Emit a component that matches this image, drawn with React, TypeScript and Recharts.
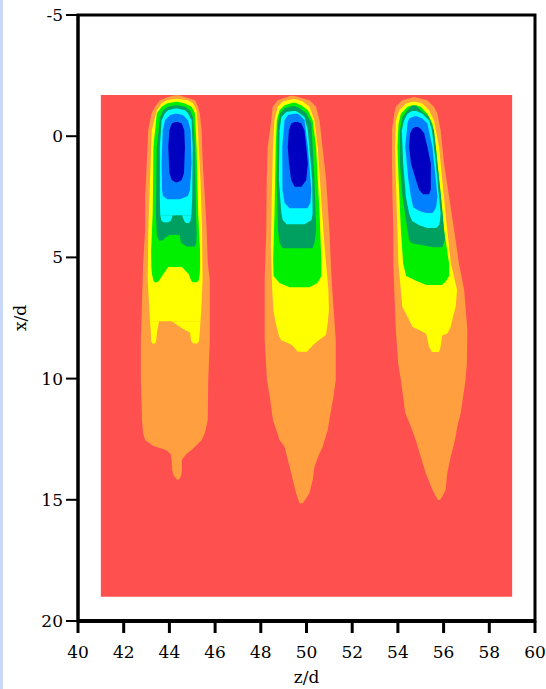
import React from 'react';
import { ComposedChart, Area, XAxis, YAxis, ReferenceArea, Label } from 'recharts';

// Each contour band is a list of rows: [x/d, left z/d, right z/d]
type Span = [number, number, number];

const zTicks = [40, 42, 44, 46, 48, 50, 52, 54, 56, 58, 60];
const xdTicks = [-5, 0, 5, 10, 15, 20];

// measured window
const domainBand: Span[] = [
  [-1.7, 41, 59],
  [19, 41, 59],
];

// ---- jet at z/d ≈ 44.3 ----
const p1Orange: Span[] = [
  [-1.7, 44.26, 44.36], [-1.62, 43.94, 44.68], [-1.48, 43.59, 45.12], [-1.21, 43.37, 45.25],
  [-0.95, 43.22, 45.33], [-0.25, 43.07, 45.41], [1.11, 43.01, 45.46], [2.51, 42.94, 45.55],
  [3.87, 42.94, 45.63], [5.23, 42.85, 45.68], [5.94, 42.83, 45.77], [8.41, 42.75, 45.77],
  [10.06, 42.75, 45.7], [11.71, 42.8, 45.68], [12.25, 42.85, 45.55], [12.54, 42.94, 45.41],
  [12.78, 43.3, 45.15], [12.95, 43.85, 44.97], [13.1, 44.05, 44.75], [13.36, 44.1, 44.54],
  [13.77, 44.12, 44.55], [14.02, 44.2, 44.51], [14.16, 44.33, 44.42],
];
const p1Yellow: Span[] = [
  [-1.55, 44.26, 44.36], [-1.48, 43.88, 44.81], [-1.36, 43.66, 45.03], [-1.07, 43.45, 45.19],
  [-0.25, 43.23, 45.25], [1.81, 43.15, 45.36], [3.87, 43.08, 45.43], [5.94, 43.05, 45.45],
  [7.1, 43.12, 45.4], [7.63, 43.15, 45.36],
];
const p1YellowLeft: Span[] = [
  [7.63, 43.15, 43.55], [8.0, 43.18, 43.47], [8.45, 43.2, 43.42], [8.55, 43.25, 43.38],
];
const p1YellowRight: Span[] = [
  [7.63, 44.1, 45.36], [7.95, 44.6, 45.34], [8.1, 44.9, 45.33], [8.45, 44.95, 45.3], [8.55, 45.05, 45.22],
];
const p1Green: Span[] = [
  [-1.42, 44.26, 44.36], [-1.35, 43.88, 44.68], [-1.21, 43.66, 44.97], [-0.95, 43.45, 45.12],
  [0.45, 43.3, 45.19], [3.17, 43.27, 45.26], [4.7, 43.2, 45.34], [5.4, 43.21, 45.34],
];
const p1GreenLeft: Span[] = [
  [5.4, 43.21, 43.95], [5.7, 43.24, 43.73], [5.95, 43.3, 43.55], [6.02, 43.35, 43.48],
];
const p1GreenRight: Span[] = [
  [5.4, 44.55, 45.34], [5.7, 44.85, 45.33], [5.95, 44.95, 45.28], [6.02, 45.02, 45.2],
];
const p1DarkGreen: Span[] = [
  [-1.28, 44.26, 44.36], [-1.21, 43.94, 44.68], [-1.07, 43.72, 44.9], [-0.79, 43.59, 45.03],
  [0.45, 43.45, 45.12], [3.17, 43.41, 45.16], [4.08, 43.45, 45.19],
];
const p1DarkGreenLeft: Span[] = [
  [4.08, 43.45, 44.0], [4.2, 43.5, 43.8], [4.3, 43.55, 43.72],
];
const p1DarkGreenRight: Span[] = [
  [4.08, 44.45, 45.19], [4.4, 44.5, 45.17], [4.55, 44.75, 45.12],
];
const p1Cyan: Span[] = [
  [-1.14, 44.26, 44.36], [-1.07, 43.94, 44.68], [-0.95, 43.81, 44.81], [-0.66, 43.66, 44.97],
  [0.45, 43.58, 45.02], [2.51, 43.58, 45.0], [3.26, 43.6, 44.96],
];
const p1CyanLeft: Span[] = [
  [3.26, 43.6, 44.15], [3.5, 43.66, 44.05], [3.55, 43.75, 43.95],
];
const p1CyanRight: Span[] = [
  [3.26, 44.55, 44.96], [3.5, 44.65, 44.92], [3.58, 44.72, 44.85],
];
const p1Blue: Span[] = [
  [-0.93, 44.26, 44.36], [-0.87, 44.03, 44.59], [-0.66, 43.81, 44.81], [-0.25, 43.71, 44.93],
  [1.11, 43.66, 44.97], [2.23, 43.68, 44.9], [2.47, 43.72, 44.81], [2.6, 43.9, 44.46],
];
const p1Navy: Span[] = [
  [-0.59, 44.26, 44.36], [-0.52, 44.1, 44.54], [-0.25, 44.0, 44.65], [0.45, 43.95, 44.68],
  [1.52, 44.0, 44.64], [1.81, 44.1, 44.54], [1.9, 44.26, 44.36],
];

// ---- jet at z/d ≈ 49.6 ----
const p2Orange: Span[] = [
  [-1.67, 49.31, 49.44], [-1.48, 48.74, 50.13], [-1.21, 48.52, 50.42], [-0.66, 48.46, 50.57],
  [0.45, 48.3, 50.7], [1.81, 48.26, 50.86], [3.87, 48.24, 51.0], [5.94, 48.17, 51.1],
  [8.41, 48.17, 51.28], [10.06, 48.27, 51.28], [10.74, 48.39, 51.18], [11.29, 48.47, 51.08],
  [11.71, 48.53, 51.0], [12.12, 48.68, 50.93], [12.53, 48.82, 50.79], [12.81, 49.04, 50.71],
  [13.08, 49.11, 50.57], [13.63, 49.26, 50.35], [14.18, 49.4, 50.27], [14.73, 49.55, 50.13],
  [15.14, 49.69, 49.84],
];
const p2Yellow: Span[] = [
  [-1.53, 49.39, 49.52], [-1.43, 48.97, 49.84], [-1.21, 48.74, 50.13], [-0.66, 48.6, 50.35],
  [0.45, 48.53, 50.49], [2.5, 48.48, 50.64], [4.56, 48.44, 50.79], [6.35, 48.5, 50.96],
  [7.17, 48.55, 50.98], [7.7, 48.65, 50.93], [8.2, 48.78, 50.85], [8.41, 48.88, 50.55],
  [8.6, 49.35, 50.3], [8.89, 49.62, 50.02],
];
const p2Green: Span[] = [
  [-1.38, 49.39, 49.52], [-1.28, 49.04, 49.77], [-1.07, 48.82, 50.06], [-0.66, 48.7, 50.27],
  [0.45, 48.65, 50.42], [3.17, 48.6, 50.57], [5.11, 48.54, 50.65], [5.77, 48.56, 50.65],
  [6.06, 48.82, 50.48], [6.23, 49.26, 50.13],
];
const p2DarkGreen: Span[] = [
  [-1.24, 49.39, 49.52], [-1.15, 49.04, 49.7], [-0.95, 48.85, 49.99], [-0.52, 48.75, 50.21],
  [1.81, 48.7, 50.35], [3.87, 48.75, 50.42], [4.41, 48.82, 50.35], [4.62, 48.96, 50.26],
];
const p2Cyan: Span[] = [
  [-1.04, 49.39, 49.52], [-1.0, 49.12, 49.62], [-0.79, 48.9, 49.91], [-0.25, 48.82, 50.06],
  [1.81, 48.79, 50.25], [3.17, 48.9, 50.27], [3.46, 48.96, 50.22], [3.63, 49.13, 49.91],
];
const p2Blue: Span[] = [
  [-0.93, 49.48, 49.61], [-0.87, 49.18, 49.7], [-0.66, 49.04, 49.91], [0.45, 48.94, 50.06],
  [2.23, 48.95, 50.21], [2.76, 49.04, 50.17], [2.97, 49.26, 50.04],
];
const p2Navy: Span[] = [
  [-0.59, 49.48, 49.61], [-0.52, 49.33, 49.77], [-0.25, 49.23, 49.91], [0.45, 49.18, 49.99],
  [1.12, 49.23, 50.06], [1.81, 49.33, 49.99], [2.09, 49.48, 49.78],
];

// ---- jet at z/d ≈ 54.9 ----
const p3Orange: Span[] = [
  [-1.61, 54.67, 54.76], [-1.48, 54.19, 55.28], [-1.21, 53.91, 55.58], [-0.93, 53.84, 55.73],
  [-0.25, 53.74, 55.87], [1.12, 53.74, 56.02], [2.5, 53.76, 56.24], [3.87, 53.8, 56.46],
  [5.25, 53.8, 56.67], [6.35, 53.84, 56.9], [7.99, 53.91, 57.04], [9.36, 54.01, 57.02],
  [10.06, 54.13, 56.96], [11.42, 54.32, 56.75], [11.98, 54.57, 56.6], [12.53, 54.78, 56.5],
  [13.22, 55.0, 56.31], [13.9, 55.22, 56.16], [14.59, 55.51, 56.09], [14.88, 55.67, 55.93],
  [15.01, 55.76, 55.84],
];
const p3Yellow: Span[] = [
  [-1.42, 54.62, 54.8], [-1.35, 54.35, 55.07], [-1.07, 54.06, 55.36], [-0.66, 53.91, 55.58],
  [0.44, 53.88, 55.8], [1.81, 53.91, 55.94], [3.87, 53.98, 56.16], [5.25, 54.02, 56.32],
  [6.35, 54.13, 56.59], [7.04, 54.19, 56.53], [7.45, 54.42, 56.41], [7.87, 54.64, 56.31],
  [8.0, 54.93, 56.25], [8.14, 55.22, 56.16], [8.22, 55.26, 55.94], [8.69, 55.36, 55.87],
  [8.9, 55.49, 55.8],
];
const p3Green: Span[] = [
  [-1.28, 54.62, 54.8], [-1.21, 54.42, 55.0], [-0.93, 54.13, 55.29], [-0.52, 54.03, 55.51],
  [0.44, 53.98, 55.66], [1.81, 54.03, 55.8], [3.87, 54.13, 56.02], [5.25, 54.23, 56.24],
  [5.77, 54.36, 56.24], [5.98, 54.84, 56.1], [6.14, 55.24, 55.93],
];
const p3DarkGreen: Span[] = [
  [-1.26, 54.62, 54.8], [-1.07, 54.42, 55.0], [-0.79, 54.2, 55.36], [-0.25, 54.09, 55.58],
  [1.12, 54.09, 55.73], [2.5, 54.2, 55.89], [3.87, 54.42, 56.02], [4.29, 54.49, 56.06],
  [4.42, 54.62, 56.0], [4.58, 55.55, 55.95],
];
const p3Cyan: Span[] = [
  [-1.04, 54.62, 54.8], [-0.93, 54.42, 55.07], [-0.66, 54.27, 55.36], [-0.25, 54.17, 55.49],
  [1.12, 54.23, 55.66], [2.5, 54.35, 55.8], [3.19, 54.49, 55.87], [3.5, 54.62, 55.84],
  [3.67, 54.93, 55.8], [3.79, 55.28, 55.67],
];
const p3Blue: Span[] = [
  [-0.82, 54.71, 54.84], [-0.73, 54.49, 55.07], [-0.52, 54.42, 55.29], [0.44, 54.32, 55.51],
  [1.81, 54.46, 55.66], [2.5, 54.57, 55.73], [2.93, 54.67, 55.67], [3.09, 54.93, 55.58],
  [3.17, 55.24, 55.51],
];
const p3Navy: Span[] = [
  [-0.38, 54.75, 54.88], [-0.31, 54.63, 55.0], [-0.11, 54.53, 55.15], [0.44, 54.49, 55.29],
  [1.12, 54.57, 55.44], [1.81, 54.79, 55.44], [2.22, 54.93, 55.44], [2.39, 55.1, 55.36],
];

const colors = {
  red: '#ff5050',
  orange: '#ff9f40',
  yellow: '#ffff00',
  green: '#00f000',
  darkGreen: '#00a060',
  cyan: '#00ffff',
  blue: '#0080ff',
  navy: '#0000c0',
};

// painted from the outermost level inwards
const layers: { id: string; color: string; spans: Span[] }[] = [
  { id: 'window', color: colors.red, spans: domainBand },
  { id: 'p1-orange', color: colors.orange, spans: p1Orange },
  { id: 'p2-orange', color: colors.orange, spans: p2Orange },
  { id: 'p3-orange', color: colors.orange, spans: p3Orange },
  { id: 'p1-yellow', color: colors.yellow, spans: p1Yellow },
  { id: 'p1-yellow-l', color: colors.yellow, spans: p1YellowLeft },
  { id: 'p1-yellow-r', color: colors.yellow, spans: p1YellowRight },
  { id: 'p2-yellow', color: colors.yellow, spans: p2Yellow },
  { id: 'p3-yellow', color: colors.yellow, spans: p3Yellow },
  { id: 'p1-green', color: colors.green, spans: p1Green },
  { id: 'p1-green-l', color: colors.green, spans: p1GreenLeft },
  { id: 'p1-green-r', color: colors.green, spans: p1GreenRight },
  { id: 'p2-green', color: colors.green, spans: p2Green },
  { id: 'p3-green', color: colors.green, spans: p3Green },
  { id: 'p1-dkgreen', color: colors.darkGreen, spans: p1DarkGreen },
  { id: 'p1-dkgreen-l', color: colors.darkGreen, spans: p1DarkGreenLeft },
  { id: 'p1-dkgreen-r', color: colors.darkGreen, spans: p1DarkGreenRight },
  { id: 'p2-dkgreen', color: colors.darkGreen, spans: p2DarkGreen },
  { id: 'p3-dkgreen', color: colors.darkGreen, spans: p3DarkGreen },
  { id: 'p1-cyan', color: colors.cyan, spans: p1Cyan },
  { id: 'p1-cyan-l', color: colors.cyan, spans: p1CyanLeft },
  { id: 'p1-cyan-r', color: colors.cyan, spans: p1CyanRight },
  { id: 'p2-cyan', color: colors.cyan, spans: p2Cyan },
  { id: 'p3-cyan', color: colors.cyan, spans: p3Cyan },
  { id: 'p1-blue', color: colors.blue, spans: p1Blue },
  { id: 'p2-blue', color: colors.blue, spans: p2Blue },
  { id: 'p3-blue', color: colors.blue, spans: p3Blue },
  { id: 'p1-navy', color: colors.navy, spans: p1Navy },
  { id: 'p2-navy', color: colors.navy, spans: p2Navy },
  { id: 'p3-navy', color: colors.navy, spans: p3Navy },
];

const toRows = (spans: Span[]) => spans.map(([xd, left, right]) => ({ xd, band: [left, right] }));

const serif = 'DejaVu Serif';
const labelSize = 17;

const BottomTick = (props: any) => {
  const { x, y, payload } = props;
  return (
    <text x={x} y={y} dy={15} textAnchor="middle" fill="#000" fontSize={labelSize} fontFamily={serif}>
      {payload.value}
    </text>
  );
};

const LeftTick = (props: any) => {
  const { x, y, payload } = props;
  return (
    <text x={x} y={y} dy={6} textAnchor="end" fill="#000" fontSize={labelSize} fontFamily={serif}>
      {payload.value}
    </text>
  );
};

const XTitle = (props: any) => {
  const { viewBox } = props;
  const cx = viewBox.x + viewBox.width / 2;
  return (
    <text x={cx} y={683} textAnchor="middle" fill="#000" fontSize={labelSize} fontFamily={serif}>
      z/d
    </text>
  );
};

const YTitle = (props: any) => {
  const { viewBox } = props;
  const cy = viewBox.y + viewBox.height / 2;
  return (
    <text
      x={26}
      y={cy}
      transform={`rotate(-90 26 ${cy})`}
      textAnchor="middle"
      fill="#000"
      fontSize={labelSize}
      fontFamily={serif}
    >
      x/d
    </text>
  );
};

export default function App() {
  return (
    <div style={{ position: 'absolute', left: 0, top: 0, width: 546, height: 689, background: '#fff' }}>
      <div style={{ position: 'absolute', left: 0, top: 0, width: 3, height: 689, background: '#c8d7f8' }} />
      <ComposedChart
        width={546}
        height={689}
        layout="vertical"
        margin={{ top: 15, right: 11, bottom: 0, left: 0 }}
      >
        <XAxis
          type="number"
          domain={[40, 60]}
          ticks={zTicks}
          interval={0}
          allowDataOverflow
          height={68}
          tickSize={12}
          tickMargin={10}
          axisLine={{ stroke: '#000', strokeWidth: 4 }}
          tickLine={{ stroke: '#000', strokeWidth: 3 }}
          tick={BottomTick}
        >
          <Label content={XTitle} />
        </XAxis>
        <YAxis
          type="number"
          dataKey="xd"
          domain={[-5, 20]}
          ticks={xdTicks}
          interval={0}
          allowDataOverflow
          width={78}
          tickSize={12}
          tickMargin={3}
          axisLine={{ stroke: '#000', strokeWidth: 3 }}
          tickLine={{ stroke: '#000', strokeWidth: 2 }}
          tick={LeftTick}
        >
          <Label content={YTitle} />
        </YAxis>
        {layers.map((layer) => (
          <Area
            key={layer.id}
            data={toRows(layer.spans)}
            dataKey="band"
            type="linear"
            stroke="none"
            fill={layer.color}
            fillOpacity={1}
            dot={false}
            activeDot={false}
            isAnimationActive={false}
          />
        ))}
        <ReferenceArea x1={40} x2={60} y1={-5} y2={20} fill="none" stroke="#000" strokeWidth={3} ifOverflow="visible" />
      </ComposedChart>
    </div>
  );
}
